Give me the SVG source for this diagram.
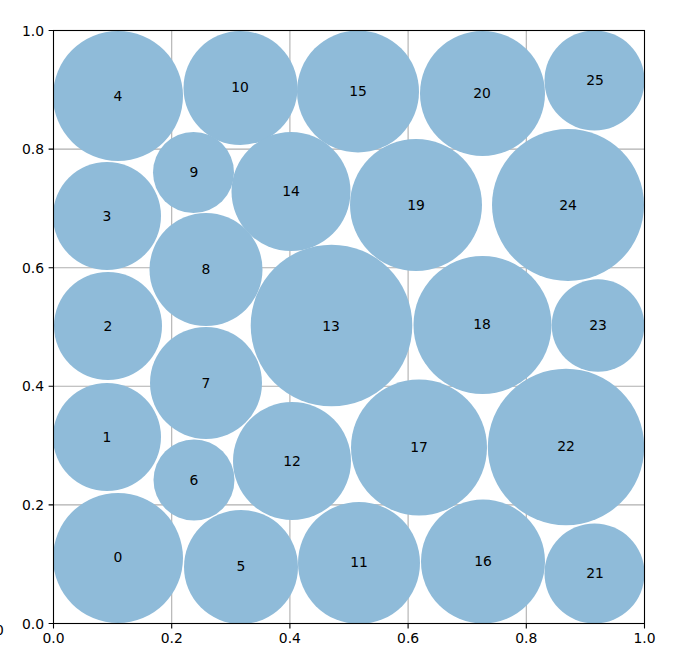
<svg xmlns="http://www.w3.org/2000/svg" width="686" height="658" viewBox="0 0 686 658">
<style>
.grid{stroke:#b0b0b0;stroke-width:1.1;fill:none}
.c{fill:#8fbbd9}
.lbl{font-family:"DejaVu Sans",sans-serif;font-size:13.9px;fill:#000;text-anchor:middle;dominant-baseline:central}
.tk{font-family:"DejaVu Sans",sans-serif;font-size:13.9px;fill:#000}
.tick{stroke:#000;stroke-width:1.1}
.spine{stroke:#000;stroke-width:1.1;fill:none}
</style>
<rect width="686" height="658" fill="#fff"/>
<g id="grid">
<path class="grid" d="M171.7 30.5V623.5M289.9 30.5V623.5M408.1 30.5V623.5M526.3 30.5V623.5M53.5 504.9H644.5M53.5 386.3H644.5M53.5 267.7H644.5M53.5 149.1H644.5"/>
</g>
<g id="connectors"></g>
<g id="n0"><circle class="c" cx="118" cy="558" r="65"/><text class="lbl" x="118" y="557">0</text></g>
<g id="n1"><circle class="c" cx="107" cy="437" r="54"/><text class="lbl" x="107" y="437">1</text></g>
<g id="n2"><circle class="c" cx="108" cy="326" r="54"/><text class="lbl" x="108" y="326">2</text></g>
<g id="n3"><circle class="c" cx="107" cy="216" r="54"/><text class="lbl" x="107" y="216">3</text></g>
<g id="n4"><circle class="c" cx="118" cy="96" r="65"/><text class="lbl" x="118" y="96">4</text></g>
<g id="n5"><circle class="c" cx="241" cy="567" r="57"/><text class="lbl" x="241" y="566">5</text></g>
<g id="n6"><circle class="c" cx="194" cy="480" r="40.5"/><text class="lbl" x="194" y="480">6</text></g>
<g id="n7"><circle class="c" cx="206" cy="383" r="56"/><text class="lbl" x="206" y="383">7</text></g>
<g id="n8"><circle class="c" cx="206" cy="269.5" r="56.5"/><text class="lbl" x="206" y="269">8</text></g>
<g id="n9"><circle class="c" cx="193.5" cy="172.5" r="40.5"/><text class="lbl" x="194" y="172">9</text></g>
<g id="n10"><circle class="c" cx="240.5" cy="88" r="57"/><text class="lbl" x="240" y="87">10</text></g>
<g id="n11"><circle class="c" cx="359" cy="563" r="61"/><text class="lbl" x="359" y="562">11</text></g>
<g id="n12"><circle class="c" cx="292" cy="461" r="59"/><text class="lbl" x="292" y="461">12</text></g>
<g id="n13"><circle class="c" cx="331.5" cy="325.5" r="80.8"/><text class="lbl" x="331" y="326">13</text></g>
<g id="n14"><circle class="c" cx="291" cy="191.5" r="59.5"/><text class="lbl" x="291" y="191">14</text></g>
<g id="n15"><circle class="c" cx="358" cy="91.5" r="61"/><text class="lbl" x="358" y="91">15</text></g>
<g id="n16"><circle class="c" cx="483" cy="561.5" r="62"/><text class="lbl" x="483" y="561">16</text></g>
<g id="n17"><circle class="c" cx="419" cy="447.5" r="68"/><text class="lbl" x="419" y="447">17</text></g>
<g id="n18"><circle class="c" cx="482.5" cy="325" r="69"/><text class="lbl" x="482" y="324">18</text></g>
<g id="n19"><circle class="c" cx="416" cy="205" r="66"/><text class="lbl" x="416" y="205">19</text></g>
<g id="n20"><circle class="c" cx="482.5" cy="93.5" r="62.5"/><text class="lbl" x="482" y="93">20</text></g>
<g id="n21"><circle class="c" cx="594.5" cy="573.5" r="50"/><text class="lbl" x="595" y="573">21</text></g>
<g id="n22"><circle class="c" cx="566" cy="447" r="78.2"/><text class="lbl" x="566" y="446">22</text></g>
<g id="n23"><circle class="c" cx="598" cy="325.5" r="46.3"/><text class="lbl" x="598" y="325">23</text></g>
<g id="n24"><circle class="c" cx="568" cy="205" r="76"/><text class="lbl" x="568" y="205">24</text></g>
<g id="n25"><circle class="c" cx="594.5" cy="80.5" r="50"/><text class="lbl" x="595" y="80">25</text></g>
<g id="axes">
<rect class="spine" x="53.5" y="30.5" width="591" height="593"/>
<path class="tick" d="M53.5 623.5v4.9M171.7 623.5v4.9M289.9 623.5v4.9M408.1 623.5v4.9M526.3 623.5v4.9M644.5 623.5v4.9M53.5 623.5h-4.9M53.5 504.9h-4.9M53.5 386.3h-4.9M53.5 267.7h-4.9M53.5 149.1h-4.9M53.5 30.5h-4.9"/>
<g class="tk" text-anchor="middle">
<text x="53.5" y="643">0.0</text><text x="171.7" y="643">0.2</text><text x="289.9" y="643">0.4</text><text x="408.1" y="643">0.6</text><text x="526.3" y="643">0.8</text><text x="644.5" y="643">1.0</text>
</g>
<g class="tk" text-anchor="end">
<text x="44" y="628.5">0.0</text><text x="44" y="509.9">0.2</text><text x="44" y="391.3">0.4</text><text x="44" y="272.7">0.6</text><text x="44" y="154.1">0.8</text><text x="44" y="35.5">1.0</text>
</g>
<text class="tk" x="-5" y="635">0</text>
</g>
</svg>
